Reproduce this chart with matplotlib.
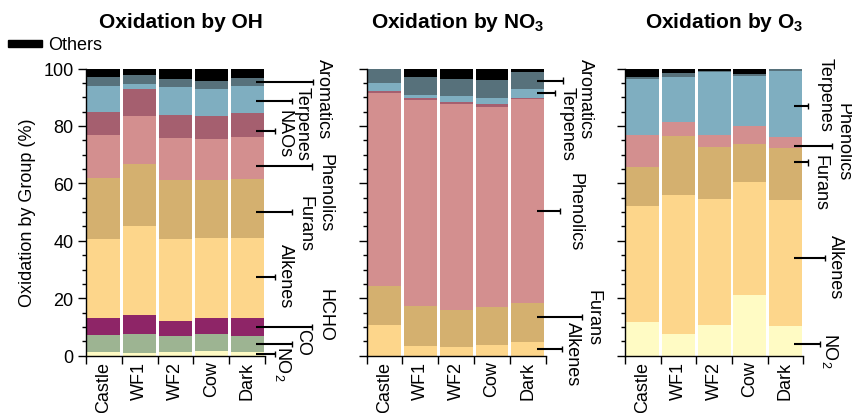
import numpy as np
import matplotlib
matplotlib.use("Agg")
import matplotlib.pyplot as plt
from matplotlib.ticker import MultipleLocator, FixedLocator

plt.rcParams["font.family"] = ["Liberation Sans", "DejaVu Sans"]
plt.rcParams["mathtext.fontset"] = "custom"
plt.rcParams["mathtext.rm"] = "Liberation Sans"
plt.rcParams["mathtext.it"] = "Liberation Sans:italic"
plt.rcParams["mathtext.bf"] = "Liberation Sans:bold"

# ---------------------------------------------------------------- data
sites = ["Castle", "WF1", "WF2", "Cow", "Dark"]
groups = ["NO2", "CO", "HCHO", "Alkenes", "Furans", "Phenolics",
          "NAOs", "Terpenes", "Aromatics", "Others"]
group_colors = ["#FFFBC4", "#9DB492", "#8E2567", "#FDD68B", "#D4B06F",
                "#D38F8F", "#A55F6F", "#7FAEC0", "#57717B", "#000000"]

# share of oxidation (%) per group, one value per site
oh_share = {
    "NO2":       [1.2, 0.9, 1.4, 1.8, 1.4],
    "CO":        [6.1, 6.7, 5.4, 5.8, 5.6],
    "HCHO":      [5.8, 6.6, 5.4, 5.7, 6.1],
    "Alkenes":   [27.5, 30.8, 28.4, 27.7, 27.9],
    "Furans":    [21.3, 21.7, 20.6, 20.3, 20.5],
    "Phenolics": [14.8, 16.9, 14.5, 14.1, 14.8],
    "NAOs":      [8.0, 9.4, 8.1, 8.1, 8.3],
    "Terpenes":  [9.3, 1.5, 9.9, 9.2, 9.3],
    "Aromatics": [3.0, 3.3, 2.8, 2.9, 2.9],
    "Others":    [3.0, 2.2, 3.5, 4.4, 3.2],
}
no3_share = {
    "NO2":       [0.0, 0.0, 0.0, 0.0, 0.0],
    "CO":        [0.0, 0.0, 0.0, 0.0, 0.0],
    "HCHO":      [0.0, 0.0, 0.0, 0.0, 0.0],
    "Alkenes":   [10.7, 3.5, 3.1, 3.8, 4.7],
    "Furans":    [13.7, 13.7, 12.9, 13.3, 13.6],
    "Phenolics": [66.9, 71.9, 71.6, 69.5, 71.0],
    "NAOs":      [0.9, 0.7, 0.8, 1.0, 0.6],
    "Terpenes":  [2.7, 1.0, 2.1, 2.2, 3.1],
    "Aromatics": [5.1, 6.1, 5.8, 6.1, 5.9],
    "Others":    [0.0, 3.1, 3.7, 4.1, 1.1],
}
o3_share = {
    "NO2":       [11.9, 7.6, 10.7, 21.0, 10.3],
    "CO":        [0.0, 0.0, 0.0, 0.0, 0.0],
    "HCHO":      [0.0, 0.0, 0.0, 0.0, 0.0],
    "Alkenes":   [40.3, 48.5, 43.8, 39.5, 43.9],
    "Furans":    [13.6, 20.4, 18.1, 13.3, 18.1],
    "Phenolics": [11.1, 5.0, 4.3, 6.2, 3.8],
    "NAOs":      [0.0, 0.0, 0.0, 0.0, 0.0],
    "Terpenes":  [19.5, 15.7, 21.9, 17.5, 23.0],
    "Aromatics": [0.8, 1.2, 0.5, 0.7, 0.6],
    "Others":    [2.8, 1.6, 0.7, 1.8, 0.3],
}

# ---------------------------------------------------------------- layout
W, H = 853, 414
fig = plt.figure(figsize=(W / 100, H / 100), dpi=100)


def px_axes(x0, x1, ytop, ybot):
    return fig.add_axes([x0 / W, 1 - ybot / H, (x1 - x0) / W, (ybot - ytop) / H])


# leader labels: (text, line y, line end beyond right edge, text x offset, text y)
oh_labels = [
    ("Aromatics", 95.3, 1.34, 1.62, 89.7),
    ("Terpenes", 88.7, 0.75, 1.03, 81.0),
    ("NAOs", 78.3, 0.28, 0.53, 77.5),
    ("Phenolics", 65.9, 1.31, 1.68, 57.0),
    ("Furans", 50.1, 0.75, 1.12, 46.2),
    ("Alkenes", 27.3, 0.28, 0.56, 28.1),
    ("HCHO", 10.1, 1.31, 1.68, 14.2),
    ("CO", 4.1, 0.75, 1.06, 5.1),
    ("NO$_2$", 0.6, 0.28, 0.50, -2.3),
]
no3_labels = [
    ("Aromatics", 95.8, 0.48, 1.10, 89.7),
    ("Terpenes", 91.5, 0.26, 0.59, 81.0),
    ("Phenolics", 50.5, 0.40, 0.82, 50.4),
    ("Furans", 13.4, 1.01, 1.32, 13.5),
    ("Alkenes", 2.3, 0.46, 0.76, 0.9),
]
o3_labels = [
    ("Terpenes", 87.0, 0.13, 0.61, 91.1),
    ("Phenolics", 73.1, 0.80, 1.11, 74.8),
    ("Furans", 67.3, 0.13, 0.47, 60.5),
    ("Alkenes", 34.0, 0.61, 0.91, 31.2),
    ("NO$_2$", 4.1, 0.47, 0.76, 2.0),
]

panels = [
    (oh_share, oh_labels, (86, 265), "Oxidation by OH", 181),
    (no3_share, no3_labels, (366.7, 545.7), r"Oxidation by NO$_\mathbf{3}$", 458),
    (o3_share, o3_labels, (625, 803.3), r"Oxidation by O$_\mathbf{3}$", 724),
]

FS = 13
x = np.arange(len(sites))

for i, (share, labels, (x0, x1), title, tx) in enumerate(panels):
    ax = px_axes(x0, x1, 69.5, 356.7)
    bottom = np.zeros(len(sites))
    for g, c in zip(groups, group_colors):
        vals = np.asarray(share[g], dtype=float)
        ax.bar(x, vals, bottom=bottom, width=0.92, color=c, linewidth=0)
        bottom += vals

    ax.set_xlim(-0.5, len(sites) - 0.5)
    ax.set_ylim(0, 100)
    for side in ("top", "right"):
        ax.spines[side].set_visible(False)
    for side in ("left", "bottom"):
        ax.spines[side].set_linewidth(1.0)

    ax.yaxis.set_major_locator(MultipleLocator(20))
    ax.yaxis.set_minor_locator(MultipleLocator(5))
    ax.tick_params(axis="y", which="major", direction="out", length=6, width=1.0,
                   labelsize=FS, pad=3)
    ax.tick_params(axis="y", which="minor", direction="out", length=3, width=1.0)
    if i > 0:
        ax.tick_params(axis="y", labelleft=False)

    ax.set_xticks(x)
    ax.set_xticklabels(sites, rotation=90, fontsize=FS)
    ax.tick_params(axis="x", which="major", length=0, pad=3.5)
    ax.xaxis.set_minor_locator(FixedLocator(np.arange(len(sites) + 1) - 0.5))
    ax.tick_params(axis="x", which="minor", direction="out", length=6, width=1.0)

    right = len(sites) - 0.5
    for name, yl, end_off, t_off, ty in labels:
        xa, xb = right - 0.25, right + end_off
        ax.plot([xa, xb], [yl, yl], color="black", lw=1.5, clip_on=False,
                solid_capstyle="butt")
        ax.plot([xb, xb], [yl - 1.1, yl + 1.1], color="black", lw=1.0,
                clip_on=False, solid_capstyle="butt")
        ax.text(right + t_off, ty, name, rotation=-90, ha="center", va="center",
                fontsize=FS, clip_on=False)

    fig.text(tx / W, 1 - 22 / H, title, ha="center", va="center",
             fontsize=15, fontweight="bold")

# y-axis label
fig.text(28 / W, 1 - 213 / H, "Oxidation by Group (%)", rotation=90,
         ha="center", va="center", fontsize=FS)

# "Others" legend swatch
fig.patches.append(plt.Rectangle((8 / W, 1 - 48 / H), 34 / W, 7 / H,
                                 transform=fig.transFigure, color="black"))
fig.text(48 / W, 1 - 45 / H, "Others", ha="left", va="center", fontsize=FS)

fig.savefig("out.png", dpi=100)
